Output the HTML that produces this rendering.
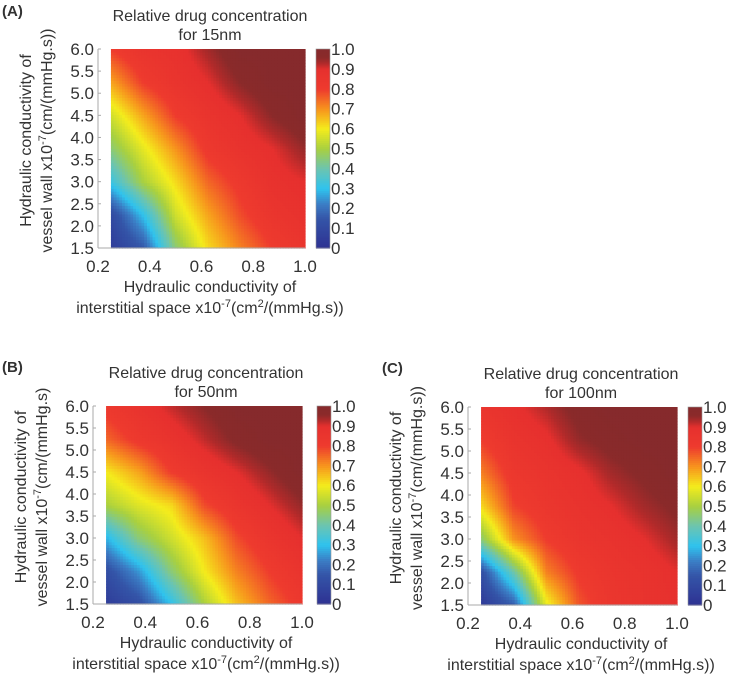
<!DOCTYPE html>
<html><head><meta charset="utf-8"><style>
body{margin:0;background:#fff;}
svg text{font-family:"Liberation Sans",sans-serif;fill:#333;}
</style></head><body>
<svg id="fig" width="729" height="676" viewBox="0 0 729 676"></svg>
<script>
const xVals=[0.25,0.375,0.5,0.625,0.75,0.875,1.0];
const yVals=[1.5,2.25,3.0,3.75,4.5,5.25,6.0];
const concA=[
 [0.05,0.15,0.45,0.62,0.72,0.80,0.85],
 [0.10,0.30,0.55,0.68,0.78,0.85,0.88],
 [0.32,0.50,0.62,0.75,0.82,0.88,0.90],
 [0.45,0.58,0.70,0.82,0.87,0.90,0.95],
 [0.55,0.68,0.80,0.86,0.90,0.96,1.00],
 [0.68,0.80,0.86,0.90,0.96,1.00,1.00],
 [0.80,0.86,0.88,0.94,1.00,1.00,1.00]];
const concB=[
 [0.05,0.12,0.30,0.50,0.65,0.75,0.82],
 [0.12,0.25,0.45,0.60,0.72,0.80,0.86],
 [0.28,0.45,0.55,0.65,0.78,0.85,0.90],
 [0.50,0.57,0.62,0.78,0.85,0.90,0.95],
 [0.60,0.68,0.80,0.86,0.90,0.95,1.00],
 [0.75,0.82,0.87,0.92,0.97,1.00,1.00],
 [0.82,0.87,0.92,0.96,1.00,1.00,1.00]];
const concC=[
 [0.04,0.16,0.58,0.77,0.84,0.87,0.89],
 [0.12,0.40,0.72,0.81,0.85,0.87,0.90],
 [0.45,0.70,0.80,0.85,0.87,0.90,0.94],
 [0.62,0.79,0.84,0.87,0.90,0.94,0.97],
 [0.72,0.83,0.86,0.89,0.94,0.97,1.00],
 [0.80,0.86,0.89,0.95,0.98,1.00,1.00],
 [0.85,0.89,0.93,0.98,1.00,1.00,1.00]];
const xTicks=[0.2,0.4,0.6,0.8,1.0];
const yTicks=[1.5,2.0,2.5,3.0,3.5,4.0,4.5,5.0,5.5,6.0];
const cbTicks=[0,0.1,0.2,0.3,0.4,0.5,0.6,0.7,0.8,0.9,1.0];

const stops=[[0,[46,49,146]],[0.15,[52,85,168]],[0.22,[59,124,196]],[0.3,[47,195,238]],[0.4,[108,196,176]],[0.5,[168,208,64]],[0.6,[244,236,28]],[0.7,[247,148,29]],[0.8,[238,59,46]],[0.9,[230,48,46]],[0.93,[176,42,42]],[0.96,[138,42,42]],[1,[134,42,44]]];
function cmap(v){v=Math.max(0,Math.min(1,v));for(let i=1;i<stops.length;i++){if(v<=stops[i][0]){const a=stops[i-1],b=stops[i],t=(v-a[0])/(b[0]-a[0]);const c=a[1].map((q,k)=>Math.round(q+(b[1][k]-q)*t));return `rgb(${c})`;}}return 'rgb(134,42,44)';}
const NS='http://www.w3.org/2000/svg',svg=document.getElementById('fig');
function mk(tag,attrs,parent,txt){const e=document.createElementNS(NS,tag);for(const k in attrs)e.setAttribute(k,attrs[k]);if(txt!==undefined)e.textContent=txt;(parent||svg).appendChild(e);return e;}
function interp(grid,x,y){
 let i=0;while(i<xVals.length-2&&x>xVals[i+1])i++;
 let j=0;while(j<yVals.length-2&&y>yVals[j+1])j++;
 const tx=(x-xVals[i])/(xVals[i+1]-xVals[i]),ty=(y-yVals[j])/(yVals[j+1]-yVals[j]);
 return grid[j][i]*(1-tx)*(1-ty)+grid[j][i+1]*tx*(1-ty)+grid[j+1][i]*(1-tx)*ty+grid[j+1][i+1]*tx*ty;}
function panel(p){
 const g=mk('g',{});
 
 
 const sx=v=>p.ax+(v-0.2)/(1.0-0.2)*(p.r-p.ax);
 const sy=v=>p.b-(v-1.5)/(6.0-1.5)*(p.b-p.t);
 const L=mk('text',{x:p.lx,y:p.ly,'font-size':15,'font-weight':'bold',fill:'#111'},g,'('+p.id.toUpperCase()+')');
 
 const cx=(sx(0.25)+p.r)/2+2;
 const t=mk('text',{x:cx,y:p.t-28,'font-size':16,'text-anchor':'middle'},g);
 
 mk('tspan',{x:cx,dy:0},t,'Relative drug concentration');mk('tspan',{x:cx,dy:19},t,'for '+p.size);
 const hm=mk('g',{},g);
 const N=70;const x0=xVals[0],x1=xVals[xVals.length-1],y0=yVals[0],y1=yVals[yVals.length-1];
 for(let a=0;a<N;a++)for(let b=0;b<N;b++){
  const xa=x0+(x1-x0)*a/N,xb=x0+(x1-x0)*(a+1)/N,ya=y0+(y1-y0)*b/N,yb=y0+(y1-y0)*(b+1)/N;
  const v=interp(p.data,(xa+xb)/2,(ya+yb)/2);
  const r=mk('rect',{x:sx(xa),y:sy(yb),width:sx(xb)-sx(xa)+0.6,height:sy(ya)-sy(yb)+0.6,fill:cmap(v)},hm);
  }
 mk('line',{x1:p.ax,y1:p.t,x2:p.ax,y2:p.b,stroke:'#aaa','stroke-width':1},g);
 mk('line',{x1:p.ax,y1:p.b,x2:p.r,y2:p.b,stroke:'#aaa','stroke-width':1},g);
 yTicks.forEach(v=>{mk('line',{x1:p.ax,x2:p.ax+3,y1:sy(v),y2:sy(v),stroke:'#aaa'},g);
  const e=mk('text',{x:p.ax-4,y:sy(v)+6,'font-size':17,'text-anchor':'end'},g,v.toFixed(1));
  });
 xTicks.forEach(v=>{const e=mk('text',{x:sx(v),y:p.b+24,'font-size':17,'text-anchor':'middle'},g,v.toFixed(1));
  });
 const xt=mk('text',{x:cx,y:p.b+44,'font-size':16,'text-anchor':'middle'},g);
 
 mk('tspan',{x:cx,dy:0},xt,'Hydraulic conductivity of');
 mk('tspan',{x:cx,dy:21},xt,'interstitial space x10');
 mk('tspan',{dy:-6,'font-size':11},xt,'-7');mk('tspan',{dy:6},xt,'(cm');mk('tspan',{dy:-6,'font-size':11},xt,'2');mk('tspan',{dy:6},xt,'/(mmHg.s))');
 const my=(p.t+p.b)/2-8;
 const yt=mk('text',{transform:`translate(${p.yx},${my}) rotate(-90)`,'font-size':16,'text-anchor':'middle'},g);
 
 mk('tspan',{x:0,dy:0},yt,'Hydraulic conductivity of');
 mk('tspan',{x:0,dy:21},yt,'vessel wall x10');mk('tspan',{dy:-6,'font-size':11},yt,'-7');mk('tspan',{dy:6},yt,p.yunit);
 const cb=mk('g',{},g);
 const M=100;for(let k=0;k<M;k++){const v=(k+0.5)/M;const y=p.b-(k+1)/M*(p.b-p.t);
  mk('rect',{x:p.cb,y:y,width:14,height:(p.b-p.t)/M+0.6,fill:cmap(v)},cb);}
 mk('rect',{x:p.cb,y:p.t,width:14,height:p.b-p.t,fill:'none',stroke:'#999','stroke-width':0.6},cb);
 cbTicks.forEach(v=>{const y=p.b-v*(p.b-p.t);
  const e=mk('text',{x:p.cb+15,y:y+6,'font-size':17},cb,v===0?'0':v.toFixed(1));
  });
}
panel({id:'a',size:'15nm',data:concA,ax:98,r:305,t:49,b:248,cb:316,lx:2,ly:16,yx:31,yunit:'(cm/(mmHg.s))'});
panel({id:'b',size:'50nm',data:concB,ax:93,r:302,t:406,b:604,cb:317,lx:2,ly:372,yx:26,yunit:'(cm/(mmHg.s)'});
panel({id:'c',size:'100nm',data:concC,ax:468,r:677,t:407,b:605,cb:688,lx:382,ly:373,yx:401,yunit:'(cm/(mmHg.s))'});
</script>
</body></html>
